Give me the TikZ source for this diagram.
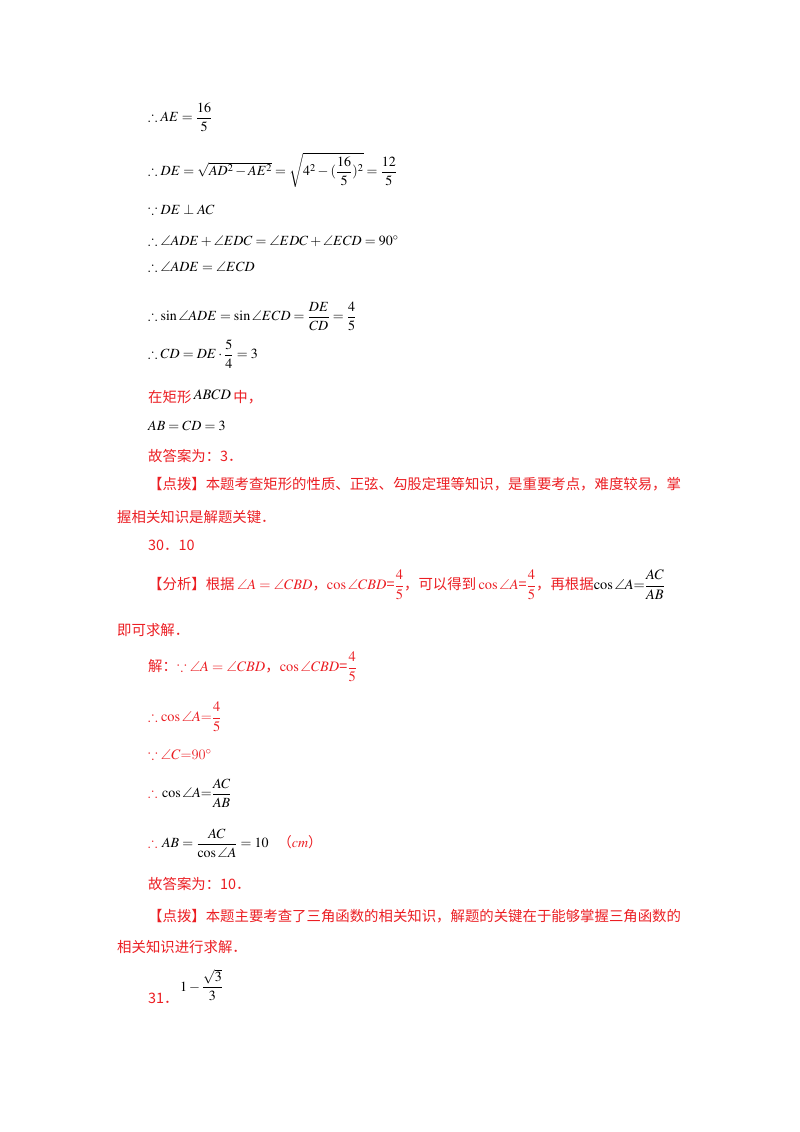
\documentclass[tikz,border=0pt]{standalone}
\usepackage{amsmath,amssymb}
\usepackage{fontspec}
\setmainfont{Liberation Serif}
\usepackage{mathptmx}
\newfontfamily\cjk{Noto Sans CJK SC}
\definecolor{ansred}{RGB}{235,30,35}
\begin{document}
\begin{tikzpicture}[x=1pt,y=-1pt,
  ln/.style={anchor=west,inner sep=0pt,font=\fontsize{14}{16}\selectfont},
  rd/.style={ln,text=ansred,font=\fontsize{14.4}{16}\selectfont}]
\useasboundingbox (0,0) rectangle (800,1132);
\node[ln] (l1) at (148,117) {$\therefore AE=\dfrac{16}{5}$};
\node[ln] (l2) at (148,170) {$\therefore DE=\sqrt{AD^2-AE^2}=\sqrt{4^2-(\dfrac{16}{5})^2}=\dfrac{12}{5}$};
\node[ln] (l3) at (148,210) {$\because DE\perp AC$};
\node[ln] (l4) at (148,241) {$\therefore \angle ADE+\angle EDC=\angle EDC+\angle ECD=90^\circ$};
\node[ln] (l5) at (148,267) {$\therefore \angle ADE=\angle ECD$};
\node[ln] (l6) at (148,316) {$\therefore \sin\angle ADE=\sin\angle ECD=\dfrac{DE}{CD}=\dfrac{4}{5}$};
\node[ln] (l7) at (148,354) {$\therefore CD=DE\cdot\dfrac{5}{4}=3$};
\node[rd] (l8) at (148,397) {\cjk 在矩形\,\raisebox{3pt}{\color{black}$ABCD$}\,中，};
\node[ln] (l9) at (148,426) {$AB=CD=3$};
\node[rd] (l10) at (148,456) {\cjk 故答案为：3．};
\node[rd] (l11) at (148,484) {\cjk 【点拨】本题考查矩形的性质、正弦、勾股定理等知识，是重要考点，难度较易，掌};
\node[rd] (l12) at (117,517) {\cjk 握相关知识是解题关键．};
\node[rd] (l13) at (148,545) {\cjk 30．10};
\node[rd] (l14) at (148,585) {\cjk 【分析】根据\,$\angle A=\angle CBD$，$\cos\angle CBD$=$\dfrac{4}{5}$，可以得到\,$\cos\angle A$=$\dfrac{4}{5}$，再根据\color{black}$\cos\angle A{=}\dfrac{AC}{AB}$};
\node[rd] (l15) at (117,630) {\cjk 即可求解．};
\node[rd] (l16) at (148,667) {\cjk 解：$\because\angle A=\angle CBD$，$\cos\angle CBD$=$\dfrac{4}{5}$};
\node[rd] (l17) at (148,717) {$\therefore\cos\angle A$=$\dfrac{4}{5}$};
\node[rd] (l18) at (148,755) {$\because\angle C$=90$^\circ$};
\node[ln] (l19) at (148,793) {{\color{ansred}$\therefore$} $\cos\angle A{=}\dfrac{AC}{AB}$};
\node[ln] (l20) at (148,843) {{\color{ansred}$\therefore$} $AB=\dfrac{AC}{\cos\angle A}=10$ \ {\color{ansred}\cjk（$cm$）}};
\node[rd] (l21) at (148,884) {\cjk 故答案为：10．};
\node[rd] (l22) at (148,916) {\cjk 【点拨】本题主要考查了三角函数的相关知识，解题的关键在于能够掌握三角函数的};
\node[rd] (l23) at (117,947) {\cjk 相关知识进行求解．};
\node[rd] (l24) at (148,998) {\cjk 31．};
\node[ln] (l25) at (180,985) {$1-\dfrac{\sqrt{3}}{3}$};
\end{tikzpicture}
\end{document}
